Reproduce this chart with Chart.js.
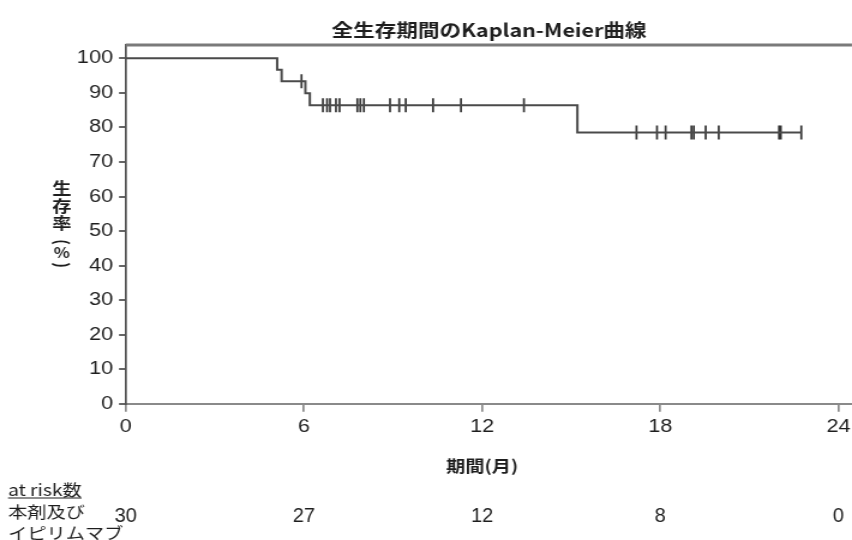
<!DOCTYPE html>
<html lang="ja">
<head>
<meta charset="utf-8">
<title>全生存期間のKaplan-Meier曲線</title>
<script src="https://cdn.jsdelivr.net/npm/chart.js@4.4.1/dist/chart.umd.min.js"></script>
<style>
  html, body { margin: 0; padding: 0; background: #fff; overflow: hidden; }
  #wrap { width: 852px; height: 540px; overflow: hidden; position: relative; }
  /* the figure is laid out on a narrower canvas and widened horizontally */
  #km { display: block; transform: scaleX(1.2); transform-origin: 0 0; }
</style>
</head>
<body>
<div id="wrap"><canvas id="km" width="719" height="540"></canvas></div>
<script>
// ---- data ----
const monthTicks = [0, 6, 12, 18, 24];
const survivalTicks = [0, 10, 20, 30, 40, 50, 60, 70, 80, 90, 100];

// Kaplan-Meier step curve: time (months) and survival (%) after each step
const stepTimes = [0, 5.10, 5.25, 6.05, 6.20, 15.21, 22.75];
const survival  = [100, 96.67, 93.33, 89.88, 86.42, 78.56, 78.56];

// censored observations (months)
const censorTimes = [5.92, 6.64, 6.78, 6.88, 7.08, 7.20, 7.80, 7.90, 8.02, 8.90,
                     9.21, 9.43, 10.35, 11.29, 13.41, 17.20, 17.89, 18.18, 19.05,
                     19.13, 19.53, 19.97, 22.00, 22.06, 22.75];

// number at risk
const atRiskTimes = [0, 6, 12, 18, 24];
const atRisk = [30, 27, 12, 8, 0];

const titleText = '全生存期間のKaplan-Meier曲線';
const xTitle = '期間(月)';
const yTitleChars = ['生', '存', '率'];
const riskHeader = 'at risk数';
const groupLabel = ['本剤及び', 'イピリムマブ'];

// ---- drawing helpers ----
const SX = 1.2;               // CSS horizontal widening of the canvas
const CJK = '"Noto Sans CJK JP", "Noto Sans", sans-serif';
const SANS = '"Liberation Sans", Arial, sans-serif';
const INK = '#1e1e1e';

function survAt(t) {
  let v = survival[0];
  for (let i = 0; i < stepTimes.length; i++) if (stepTimes[i] <= t) v = survival[i];
  return v;
}

function txt(ctx, s, x, y, font, align, stretch, rot) {
  ctx.save();
  ctx.translate(x, y);
  ctx.scale(stretch / SX, 1);
  if (rot) ctx.rotate(rot);
  ctx.font = font;
  ctx.fillStyle = INK;
  ctx.textAlign = align;
  ctx.textBaseline = 'middle';
  ctx.fillText(s, 0, 0);
  ctx.restore();
}

const decorations = {
  id: 'decorations',
  afterDraw(chart) {
    const { ctx, chartArea: a, scales: { x } } = chart;

    // upper frame line
    ctx.save();
    ctx.strokeStyle = '#7a7a7a';
    ctx.lineWidth = 3;
    ctx.beginPath();
    ctx.moveTo(a.left, a.top);
    ctx.lineTo(a.right, a.top);
    ctx.stroke();
    ctx.restore();

    // y-axis title, stacked vertically
    const yx = 51.4;
    const yFont = 'bold 16px ' + CJK;
    yTitleChars.forEach((c, i) => txt(ctx, c, yx, 188 + i * 17.5, yFont, 'center', SX));
    txt(ctx, '(', yx, 242, 'bold 15px ' + CJK, 'center', SX, Math.PI / 2);
    txt(ctx, '%', yx, 253, 'bold 14px ' + CJK, 'center', SX);
    txt(ctx, ')', yx, 265, 'bold 15px ' + CJK, 'center', SX, Math.PI / 2);

    // x-axis title
    const xc = (x.getPixelForValue(monthTicks[0]) + x.getPixelForValue(monthTicks[monthTicks.length - 1])) / 2;
    txt(ctx, xTitle, xc, 466, 'bold 16px ' + CJK, 'center', SX);

    // number-at-risk table
    const lx = 8 / SX;
    txt(ctx, riskHeader, lx, 490, '16px ' + CJK, 'left', SX);
    ctx.save();
    ctx.font = '16px ' + CJK;
    const hw = ctx.measureText(riskHeader).width;
    ctx.strokeStyle = INK;
    ctx.lineWidth = 1.2;
    ctx.beginPath();
    ctx.moveTo(lx, 498);
    ctx.lineTo(lx + hw, 498);
    ctx.stroke();
    ctx.restore();
    txt(ctx, groupLabel[0], lx, 512, '16px ' + CJK, 'left', SX);
    txt(ctx, groupLabel[1], lx, 533, '16px ' + CJK, 'left', SX);
    atRiskTimes.forEach((t, i) => {
      txt(ctx, String(atRisk[i]), x.getPixelForValue(t), 516, '20px ' + SANS, 'center', 1.0);
    });
  }
};

new Chart(document.getElementById('km'), {
  type: 'scatter',
  data: {
    datasets: [
      {
        label: 'KM',
        data: stepTimes.map((t, i) => ({ x: t, y: survival[i] })),
        showLine: true,
        stepped: 'before',
        borderColor: '#4a4a4a',
        borderWidth: 2,
        pointRadius: 0,
        fill: false
      },
      {
        label: 'censored',
        data: censorTimes.map(t => ({ x: t, y: survAt(t) })),
        showLine: false,
        pointStyle: 'line',
        rotation: 90,
        pointRadius: 7,
        borderColor: '#333',
        borderWidth: 1.7
      }
    ]
  },
  options: {
    responsive: false,
    animation: false,
    events: [],
    layout: { padding: { top: 0, left: 0, right: 0, bottom: 100 } },
    plugins: {
      legend: { display: false },
      tooltip: { enabled: false },
      title: {
        display: true,
        text: titleText,
        fullSize: false,
        color: INK,
        font: { family: CJK, size: 18, weight: 'bold', lineHeight: 1.2 },
        padding: { top: 19, bottom: 4.4 }
      }
    },
    scales: {
      x: {
        type: 'linear',
        min: 0,
        max: 24.47,
        afterBuildTicks: s => { s.ticks = monthTicks.map(v => ({ value: v })); },
        afterFit: s => { s.height = 36; s.paddingLeft = 0; s.paddingRight = 0; },
        grid: { drawOnChartArea: false, tickLength: 7.7, color: '#8a8a8a', lineWidth: 1.7 },
        border: { color: '#8a8a8a', width: 2 },
        ticks: { padding: 5, color: INK, maxRotation: 0, autoSkip: false,
                 font: { family: SANS, size: 18 } }
      },
      y: {
        min: 0,
        max: 103.85,
        afterBuildTicks: s => { s.ticks = survivalTicks.map(v => ({ value: v })); },
        afterFit: s => { s.width = 125.7 / SX; s.paddingTop = 0; s.paddingBottom = 0; },
        grid: { drawOnChartArea: false, tickLength: 5.6, color: '#666', lineWidth: 2 },
        border: { color: '#505050', width: 1.7 },
        ticks: { padding: 5, color: INK, font: { family: SANS, size: 18 } }
      }
    }
  },
  plugins: [decorations]
});
</script>
</body>
</html>
